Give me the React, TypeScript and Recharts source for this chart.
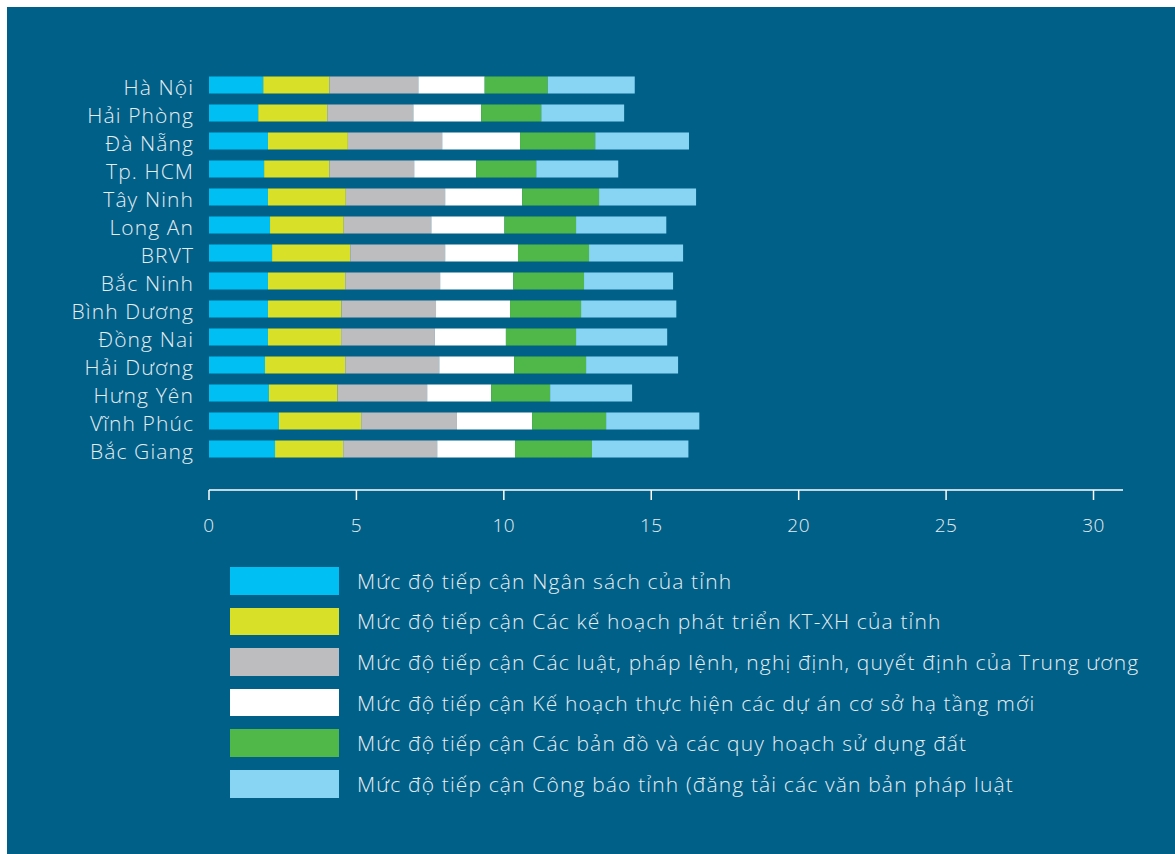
import React from 'react';
import { BarChart, Bar, XAxis, YAxis } from 'recharts';

const categories = ['Hà Nội', 'Hải Phòng', 'Đà Nẵng', 'Tp. HCM', 'Tây Ninh', 'Long An', 'BRVT', 'Bắc Ninh', 'Bình Dương', 'Đồng Nai', 'Hải Dương', 'Hưng Yên', 'Vĩnh Phúc', 'Bắc Giang'];

const nganSach = [1.84, 1.67, 2.0, 1.87, 2.0, 2.07, 2.14, 2.0, 2.0, 2.0, 1.9, 2.03, 2.37, 2.24];
const keHoach = [2.24, 2.34, 2.71, 2.21, 2.64, 2.5, 2.65, 2.62, 2.49, 2.48, 2.72, 2.33, 2.79, 2.31];
const luat = [3.02, 2.92, 3.2, 2.88, 3.37, 2.97, 3.22, 3.22, 3.21, 3.18, 3.19, 3.04, 3.25, 3.19];
const duAn = [2.25, 2.3, 2.64, 2.1, 2.61, 2.48, 2.47, 2.48, 2.51, 2.41, 2.54, 2.17, 2.55, 2.64];
const banDo = [2.14, 2.04, 2.55, 2.04, 2.61, 2.43, 2.41, 2.4, 2.41, 2.38, 2.44, 2.0, 2.51, 2.61];
const congBao = [2.95, 2.81, 3.18, 2.78, 3.29, 3.06, 3.19, 3.02, 3.23, 3.09, 3.12, 2.78, 3.16, 3.27];

const xTicks = [0, 5, 10, 15, 20, 25, 30];

const seriesNames = [
  'Mức độ tiếp cận Ngân sách của tỉnh',
  'Mức độ tiếp cận Các kế hoạch phát triển KT-XH của tỉnh',
  'Mức độ tiếp cận Các luật, pháp lệnh, nghị định, quyết định của Trung ương',
  'Mức độ tiếp cận Kế hoạch thực hiện các dự án cơ sở hạ tầng mới',
  'Mức độ tiếp cận Các bản đồ và các quy hoạch sử dụng đất',
  'Mức độ tiếp cận Công báo tỉnh (đăng tải các văn bản pháp luật',
];
const seriesKeys = ['s1', 's2', 's3', 's4', 's5', 's6'];
const seriesValues = [nganSach, keHoach, luat, duAn, banDo, congBao];
const seriesColors = ['#00BFF3', '#D8E028', '#BDBDC0', '#FFFFFF', '#4FB848', '#87D5F3'];

const data = categories.map((name, i) => {
  const row: Record<string, string | number> = { name };
  seriesKeys.forEach((k, j) => {
    row[k] = seriesValues[j][i];
  });
  return row;
});

const BG = '#006088';
const TEXT = '#E6EDF2';
const FONT = '"Open Sans", Roboto, "Liberation Sans", sans-serif';

const CategoryTick = (props: any) => {
  const { x, y, payload } = props;
  return (
    <text
      x={x}
      y={y + 10.5}
      textAnchor="end"
      fill={TEXT}
      fontSize={21}
      fontFamily={FONT}
      fontWeight={300}
      letterSpacing={1.1}
    >
      {payload.value}
    </text>
  );
};

export default function App() {
  return (
    <div
      style={{
        position: 'fixed',
        left: 7,
        top: 7,
        width: 1168,
        height: 847,
        background: BG,
        fontFamily: FONT,
      }}
    >
      <BarChart
        width={1168}
        height={847}
        layout="vertical"
        data={data}
        margin={{ top: 63.5, right: 52, bottom: 324, left: 0 }}
        barSize={17}
      >
        <XAxis
          type="number"
          domain={[0, 31]}
          ticks={xTicks}
          allowDataOverflow
          interval={0}
          height={40}
          axisLine={{ stroke: '#FFFFFF', strokeWidth: 1.5 }}
          tickLine={{ stroke: '#FFFFFF', strokeWidth: 1.5 }}
          tickSize={10}
          tickMargin={19}
          tick={{ fill: TEXT, fontSize: 19, fontFamily: FONT, fontWeight: 300, letterSpacing: 0.5 }}
        />
        <YAxis
          type="category"
          dataKey="name"
          width={202}
          axisLine={false}
          tickLine={false}
          tickSize={0}
          tickMargin={15}
          interval={0}
          padding={{ top: 0, bottom: 27.5 }}
          tick={CategoryTick}
        />
        {seriesKeys.map((k, j) => (
          <Bar
            key={k}
            dataKey={k}
            name={seriesNames[j]}
            stackId="a"
            fill={seriesColors[j]}
            isAnimationActive={false}
          />
        ))}
      </BarChart>
      <div style={{ position: 'absolute', left: 223, top: 553.5 }}>
        {seriesNames.map((n, j) => (
          <div
            key={n}
            style={{ display: 'flex', alignItems: 'center', height: 40.6 }}
          >
            <div style={{ width: 109, height: 27.5, background: seriesColors[j], flexShrink: 0 }} />
            <div
              style={{
                marginLeft: 18,
                color: TEXT,
                fontSize: 21,
                fontWeight: 300,
                letterSpacing: 1.15,
                whiteSpace: 'nowrap',
                fontFamily: FONT,
              }}
            >
              {n}
            </div>
          </div>
        ))}
      </div>
    </div>
  );
}
